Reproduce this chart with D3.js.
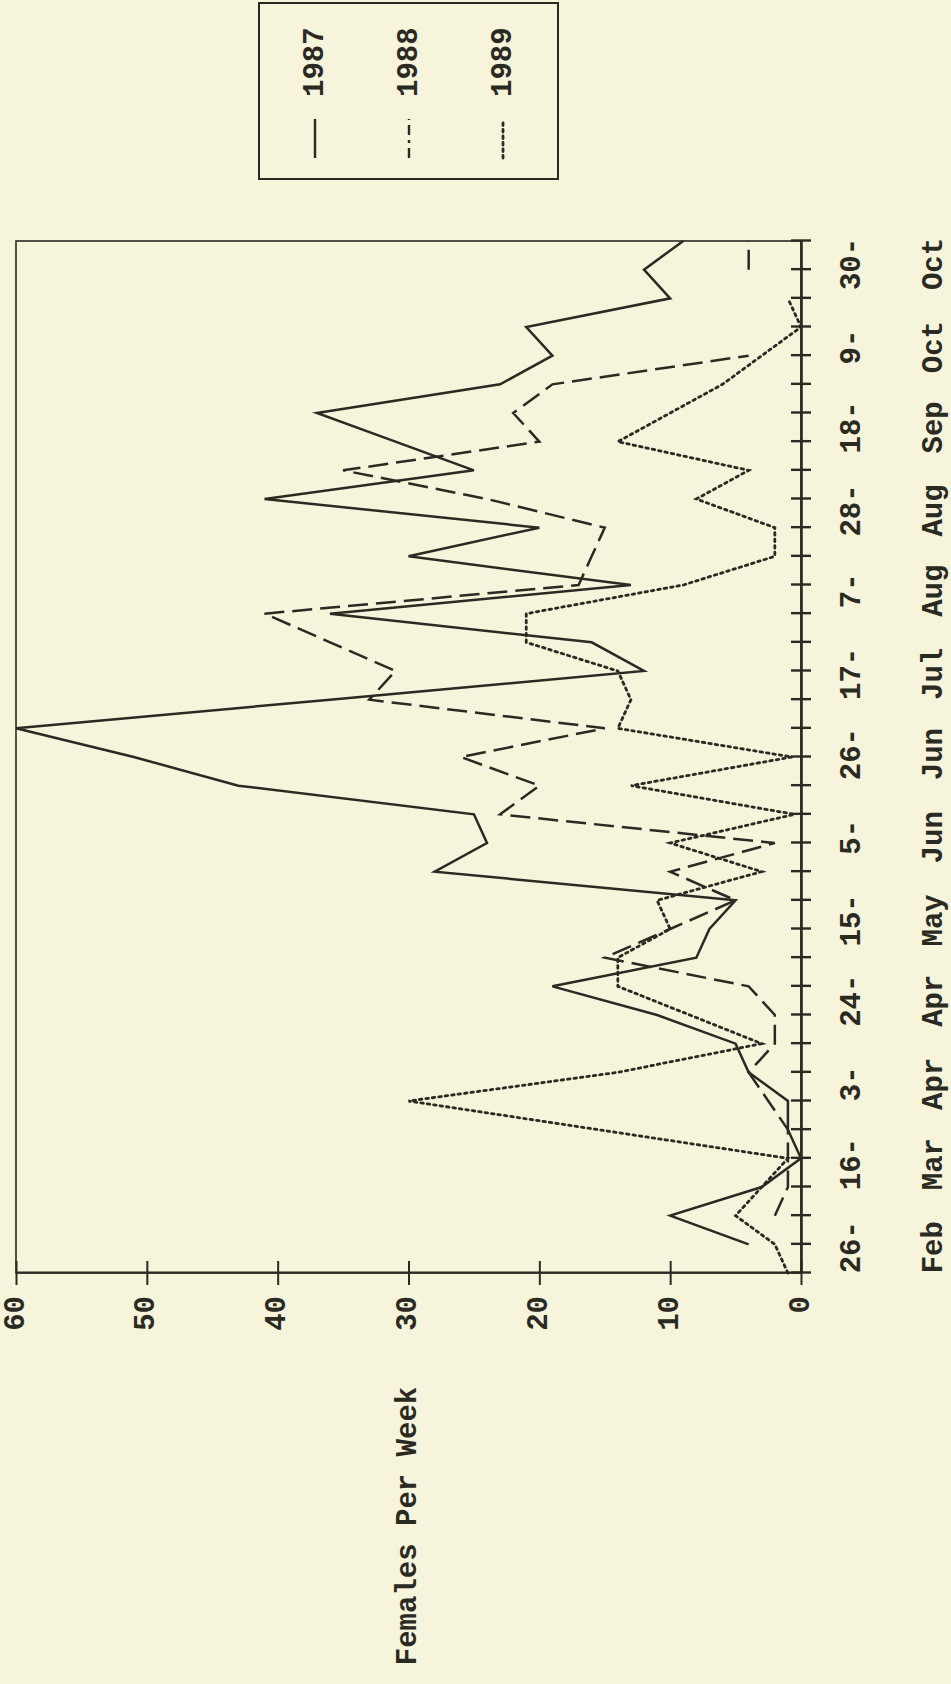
<!DOCTYPE html>
<html>
<head>
<meta charset="utf-8">
<script src="https://cdn.jsdelivr.net/npm/d3@7"></script>
<style>
html,body{margin:0;padding:0;background:#f7f4dc;}
svg{display:block;}
text{font-family:"Liberation Mono","DejaVu Sans Mono",monospace;font-weight:bold;fill:#2a2a22;}
</style>
</head>
<body>
<script>
// ---- data (weekly index 0..36, bottom to top on the rotated page) ----
const weekIndex = d3.range(37);
const dateNums   = ["26-","16-","3-","24-","15-","5-","26-","17-","7-","28-","18-","9-","30-"];
const dateMonths = ["Feb","Mar","Apr","Apr","May","Jun","Jun","Jul","Aug","Aug","Sep","Oct","Oct"];
// label centres, in week units along the date axis
const labelPos = [0.9,3.8,6.6,9.5,12.3,15.2,18.1,20.9,23.8,26.6,29.5,32.3,35.2];
const valueTicks = [0,10,20,30,40,50,60];
const seriesNames = ["1987","1988","1989"];
const s1987 = [null,4,10,3,0,1,1,4,5,11,19,8,7,5,28,24,25,43,51,60,36,12,16,36,13,30,20,41,25,31,37,23,19,21,10,12,9];
const s1988 = [null,null,2,1,1,1,2.5,4,2,2,4,15,10,5,10,2,23,20,26,15,33,31,36,41,17,16,15,24,35,20,22,19,4,null,null,4,4];
const s1989 = [1,2,5,3,1,15.5,30,14,3,8.5,14,14,10,11,3,10,0.5,13,0.7,14,13,14,21,21,9,2,2,8,4,14,10,6,3,0,1,null,null];
const yTitle = "Females Per Week";

const W = 951, H = 1684;
const ink = "#2a2a22";
const dashes = { "1987": null, "1988": "20 8", "1989": "2.5 4" };
const legendDashes = { "1987": null, "1988": "10 5 3 5", "1989": "2.5 4" };

const svg = d3.select("body").append("svg").attr("width", W).attr("height", H);
svg.append("rect").attr("width", W).attr("height", H).attr("fill", "#f7f4dc");

// the chart is drawn upright, then turned 90deg counter-clockwise
const g = svg.append("g").attr("transform", `translate(0,${H}) rotate(-90)`);

const x = d3.scaleLinear().domain([0, 36]).range([411, 1443]);
const y = d3.scaleLinear().domain([0, 60]).range([801, 16]);

// frame
g.append("rect").attr("x", x(0)).attr("y", y(60))
  .attr("width", x(36) - x(0)).attr("height", y(0) - y(60))
  .attr("fill", "none").attr("stroke", ink).attr("stroke-width", 1.6);

// week axis (bottom in upright frame)
const xAxis = d3.axisBottom(x).tickValues(weekIndex).tickFormat("").tickSizeOuter(0);
const gx = g.append("g").attr("transform", `translate(0,${y(0)})`).call(xAxis);
gx.select(".domain").attr("stroke", ink).attr("stroke-width", 2.6);
gx.selectAll(".tick line").attr("y1", -10).attr("y2", 10).attr("stroke", ink).attr("stroke-width", 2.4);

// value axis (left in upright frame)
const yAxis = d3.axisLeft(y).tickValues(valueTicks).tickFormat("").tickSizeOuter(0);
const gy = g.append("g").attr("transform", `translate(${x(0)},0)`).call(yAxis);
gy.select(".domain").attr("stroke", ink).attr("stroke-width", 2.2);
gy.selectAll(".tick line").attr("x1", -12).attr("x2", 12).attr("stroke", ink).attr("stroke-width", 2);

// date labels
function placeLabels(arr, cls, yy) {
  g.selectAll("." + cls).data(arr).join("text").attr("class", cls)
    .attr("x", (d, k) => x(labelPos[k]))
    .attr("y", yy)
    .attr("text-anchor", "middle")
    .attr("dominant-baseline", "central")
    .attr("font-size", 29).text(d => d);
}
placeLabels(dateNums, "dnum", 852);
placeLabels(dateMonths, "dmon", 934);

// value labels
g.selectAll(".vlab").data(valueTicks).join("text").attr("class", "vlab")
  .attr("x", 388).attr("y", d => y(d))
  .attr("text-anchor", "end").attr("dominant-baseline", "central")
  .attr("font-size", 29).text(d => d);

// axis title
g.append("text").attr("x", 158).attr("y", (y(0) + y(60)) / 2)
  .attr("text-anchor", "middle").attr("dominant-baseline", "central")
  .attr("font-size", 29).text(yTitle);

// series lines
const series = [s1987, s1988, s1989];
const line = d3.line().defined(d => d.v != null).x(d => x(d.i)).y(d => y(d.v));
series.forEach((vals, s) => {
  const pts = vals.map((v, i) => ({i: weekIndex[i], v}));
  g.append("path").datum(pts).attr("d", line)
    .attr("fill", "none").attr("stroke", ink)
    .attr("stroke-width", s === 2 ? 2.8 : 2.5)
    .attr("stroke-linejoin", "miter")
    .attr("stroke-linecap", s === 2 ? "round" : "butt")
    .attr("stroke-dasharray", dashes[seriesNames[s]]);
});

// legend
const lg = g.append("g");
lg.append("rect").attr("x", 1505).attr("y", 259).attr("width", 176).attr("height", 299)
  .attr("fill", "none").attr("stroke", ink).attr("stroke-width", 2);
const legY = [315, 409, 503];
seriesNames.forEach((nm, s) => {
  lg.append("line").attr("x1", 1526).attr("x2", 1565).attr("y1", legY[s]).attr("y2", legY[s])
    .attr("stroke", ink).attr("stroke-width", s === 2 ? 2.8 : 2.4)
    .attr("stroke-linecap", s === 2 ? "round" : "butt")
    .attr("stroke-dasharray", legendDashes[nm]);
  lg.append("text").attr("x", 1587).attr("y", legY[s]).attr("dominant-baseline", "central")
    .attr("font-size", 29).text(nm);
});
</script>
</body>
</html>
